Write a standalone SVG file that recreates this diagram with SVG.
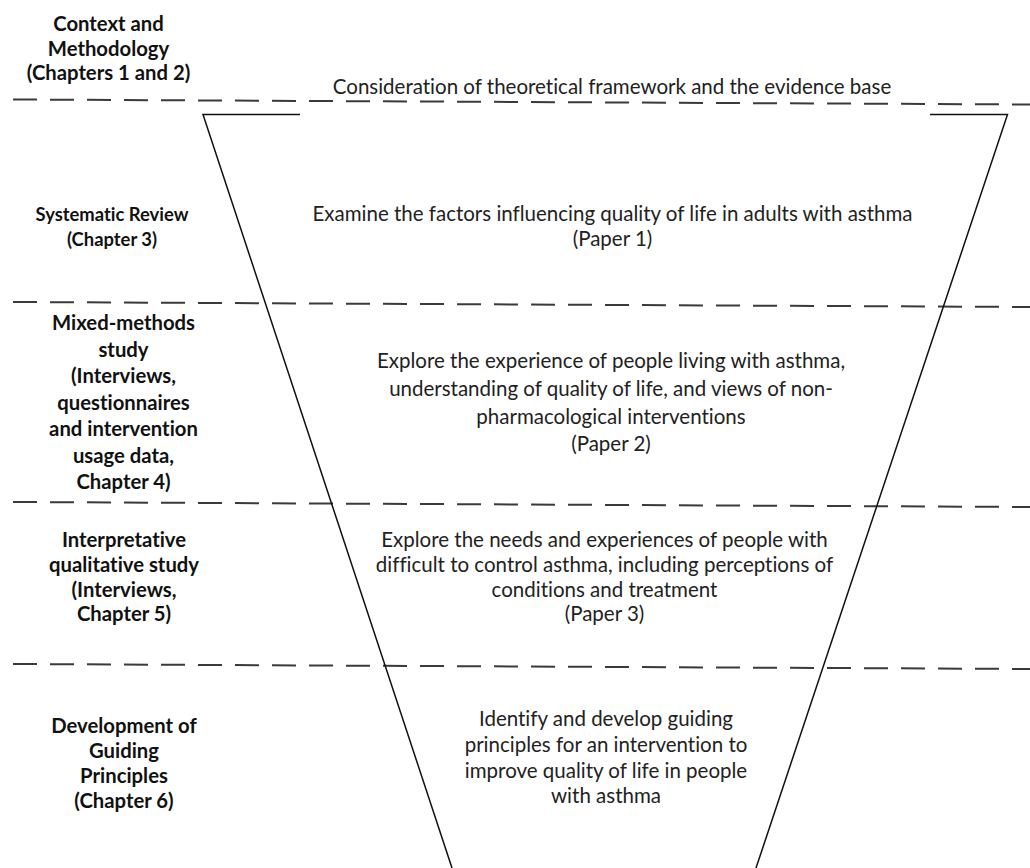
<svg xmlns="http://www.w3.org/2000/svg" width="1030" height="868" viewBox="0 0 1030 868">
  <style>
    text { font-variant-ligatures: none; }
    .lbl { font-family: Lato, "Liberation Sans", sans-serif; font-weight: bold; font-size: 20.3px; fill: #111; text-anchor: middle; }
    .lbl-s { font-size: 18.4px; }
    .body { font-family: Lato, "Liberation Sans", sans-serif; font-size: 20.5px; fill: #222; text-anchor: middle; }
    .sep { stroke: #3a3a3a; stroke-width: 2; stroke-dasharray: 24 13; fill: none; }
    .funnel { stroke: #111; stroke-width: 1.5; fill: none; }
  </style>
  <rect width="1030" height="868" fill="#fff"/>

  <!-- stage separators -->
  <g id="separators">
    <line class="sep" x1="13" y1="99.5" x2="1030" y2="104.5"/>
    <line class="sep" x1="13" y1="302" x2="1030" y2="307"/>
    <line class="sep" x1="13" y1="502" x2="1030" y2="507"/>
    <line class="sep" x1="13" y1="664" x2="1030" y2="669"/>
  </g>

  <!-- funnel outline -->
  <g id="funnel">
    <polyline class="funnel" points="300,114.5 203,114.5 452,868"/>
    <polyline class="funnel" points="930,114.5 1007.5,114.5 756,868"/>
  </g>

  <!-- stage labels -->
  <g id="label-context">
    <text class="lbl" x="108.5" y="31">Context and</text>
    <text class="lbl" x="108.5" y="55.5">Methodology</text>
    <text class="lbl" x="108.5" y="80">(Chapters 1 and 2)</text>
  </g>
  <g id="label-review">
    <text class="lbl lbl-s" x="112" y="221">Systematic Review</text>
    <text class="lbl lbl-s" x="112" y="246">(Chapter 3)</text>
  </g>
  <g id="label-mixed">
    <text class="lbl" x="123.5" y="330">Mixed-methods</text>
    <text class="lbl" x="123.5" y="356.5">study</text>
    <text class="lbl" x="123.5" y="383">(Interviews,</text>
    <text class="lbl" x="123.5" y="409.5">questionnaires</text>
    <text class="lbl" x="123.5" y="436">and intervention</text>
    <text class="lbl" x="123.5" y="462.5">usage data,</text>
    <text class="lbl" x="123.5" y="489">Chapter 4)</text>
  </g>
  <g id="label-interpretative">
    <text class="lbl" x="124" y="547">Interpretative</text>
    <text class="lbl" x="124" y="572">qualitative study</text>
    <text class="lbl" x="124" y="596.5">(Interviews,</text>
    <text class="lbl" x="124" y="621">Chapter 5)</text>
  </g>
  <g id="label-development">
    <text class="lbl" x="124" y="733">Development of</text>
    <text class="lbl" x="124" y="758">Guiding</text>
    <text class="lbl" x="124" y="783">Principles</text>
    <text class="lbl" x="124" y="808">(Chapter 6)</text>
  </g>

  <!-- stage aims -->
  <g id="aim-context">
    <text class="body" x="612" y="94">Consideration of theoretical framework and the evidence base</text>
  </g>
  <g id="aim-paper1">
    <text class="body" x="612.5" y="221">Examine the factors influencing quality of life in adults with asthma</text>
    <text class="body" x="612.5" y="246">(Paper 1)</text>
  </g>
  <g id="aim-paper2">
    <text class="body" x="611" y="368">Explore the experience of people living with asthma,</text>
    <text class="body" x="611" y="396">understanding of quality of life, and views of non-</text>
    <text class="body" x="611" y="424">pharmacological interventions</text>
    <text class="body" x="611" y="451">(Paper 2)</text>
  </g>
  <g id="aim-paper3">
    <text class="body" x="604.5" y="547">Explore the needs and experiences of people with</text>
    <text class="body" x="604.5" y="572">difficult to control asthma, including perceptions of</text>
    <text class="body" x="604.5" y="596.5">conditions and treatment</text>
    <text class="body" x="604.5" y="621">(Paper 3)</text>
  </g>
  <g id="aim-guiding">
    <text class="body" x="606" y="726">Identify and develop guiding</text>
    <text class="body" x="606" y="752">principles for an intervention to</text>
    <text class="body" x="606" y="778">improve quality of life in people</text>
    <text class="body" x="606" y="803">with asthma</text>
  </g>
</svg>
